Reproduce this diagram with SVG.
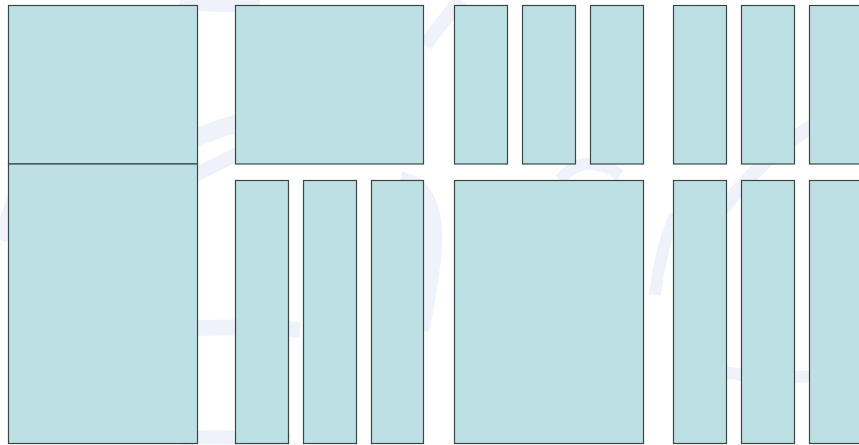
<svg xmlns="http://www.w3.org/2000/svg" width="859" height="445" viewBox="0 0 859 445">
<style>
.b{fill:#bce0e3;stroke:#3c4646;stroke-width:1.2}
.w{fill:none;stroke:#eff2fa;stroke-linecap:butt}
</style>
<rect width="859" height="445" fill="#ffffff"/>
<g id="watermark">
<path class="w" stroke-width="18" d="M120,185 Q200,120 300,112"/>
<path class="w" stroke-width="14" d="M150,200 Q220,160 280,135"/>
<path class="w" stroke-width="16" d="M150,330 Q230,325 300,330"/>
<path class="w" stroke-width="14" d="M180,438 Q230,436 290,440"/>
<path class="w" stroke-width="16" d="M180,0 Q210,6 260,4"/>
<path class="w" stroke-width="14" d="M425,45 L460,0"/>
<path class="w" stroke-width="18" d="M400,180 Q440,190 432,260 Q425,310 420,330"/>
<path class="w" stroke-width="12" d="M655,295 Q660,250 675,215"/>
<path class="w" stroke-width="14" d="M700,240 Q760,150 840,110"/>
<path class="w" stroke-width="12" d="M560,180 Q585,150 620,175"/>
<path class="w" stroke-width="12" d="M720,372 Q770,380 830,375"/>
<path class="w" stroke-width="14" d="M0,240 L15,195"/>
</g>
<g id="node-left-top"><rect class="b" x="8.5" y="5.5" width="189" height="158.5"/></g>
<g id="node-left-bottom"><rect class="b" x="8.5" y="164" width="189" height="279.5"/></g>
<g id="node-r1-a"><rect class="b" x="235.5" y="5.5" width="188" height="158.5"/></g>
<g id="node-r1-b"><rect class="b" x="454.5" y="5.5" width="53" height="158.5"/></g>
<g id="node-r1-c"><rect class="b" x="522.5" y="5.5" width="53" height="158.5"/></g>
<g id="node-r1-d"><rect class="b" x="590.5" y="5.5" width="53" height="158.5"/></g>
<g id="node-r1-e"><rect class="b" x="673.5" y="5.5" width="53" height="158.5"/></g>
<g id="node-r1-f"><rect class="b" x="741.5" y="5.5" width="53" height="158.5"/></g>
<g id="node-r1-g"><rect class="b" x="809.5" y="5.5" width="53" height="158.5"/></g>
<g id="node-r2-a"><rect class="b" x="235.5" y="180.5" width="53" height="263"/></g>
<g id="node-r2-b"><rect class="b" x="303.5" y="180.5" width="53" height="263"/></g>
<g id="node-r2-c"><rect class="b" x="371.5" y="180.5" width="52" height="263"/></g>
<g id="node-r2-d"><rect class="b" x="454.5" y="180.5" width="189" height="263"/></g>
<g id="node-r2-e"><rect class="b" x="673.5" y="180.5" width="53" height="263"/></g>
<g id="node-r2-f"><rect class="b" x="741.5" y="180.5" width="53" height="263"/></g>
<g id="node-r2-g"><rect class="b" x="809.5" y="180.5" width="53" height="263"/></g>
<g id="connectors"></g>
</svg>
